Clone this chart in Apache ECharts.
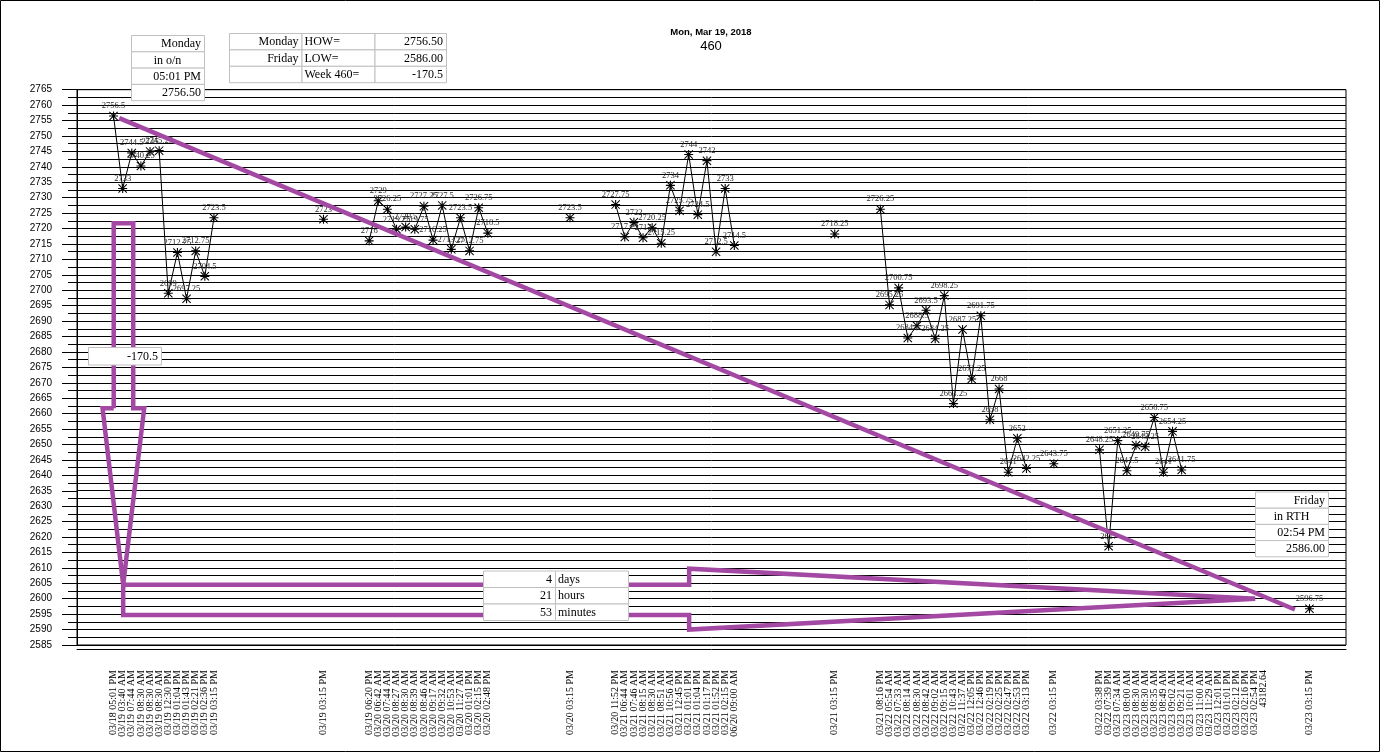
<!DOCTYPE html>
<html>
<head>
<meta charset="utf-8">
<title>Week 460</title>
<script src="https://cdn.jsdelivr.net/npm/echarts@6/dist/echarts.min.js"></script>
<style>
html, body { margin: 0; padding: 0; background: #fff; }
#chart { width: 1382px; height: 754px; }
</style>
</head>
<body>
<div id="chart"></div>
<script>
// ---- data ----------------------------------------------------------------
var monTimes = ['03/18 05:01 PM', '03/19 03:40 AM', '03/19 07:44 AM', '03/19 08:30 AM', '03/19 08:30 AM', '03/19 08:30 AM',
                '03/19 12:30 PM', '03/19 01:04 PM', '03/19 01:43 PM', '03/19 02:21 PM', '03/19 02:36 PM', '03/19 03:15 PM'];
var monPrices = [2756.5, 2733, 2744.5, 2740.25, 2745, 2745.25, 2699, 2712.25, 2697.25, 2712.75, 2704.5, 2723.5];

var tueTimes = ['03/19 06:20 PM', '03/20 06:42 AM', '03/20 07:44 AM', '03/20 08:27 AM', '03/20 08:30 AM', '03/20 08:39 AM', '03/20 08:46 AM',
                '03/20 09:17 AM', '03/20 09:32 AM', '03/20 10:53 AM', '03/20 11:27 AM', '03/20 01:01 PM', '03/20 02:15 PM', '03/20 02:48 PM'];
var tuePrices = [2716, 2729, 2726.25, 2719.75, 2720.5, 2719.75, 2727.25, 2716.25, 2727.5, 2713.25, 2723.5, 2712.75, 2726.75, 2718.5];

var wedTimes = ['03/20 11:52 PM', '03/21 06:44 AM', '03/21 07:46 AM', '03/21 08:15 AM', '03/21 08:30 AM', '03/21 08:51 AM', '03/21 10:56 AM',
                '03/21 12:45 PM', '03/21 01:01 PM', '03/21 01:04 PM', '03/21 01:17 PM', '03/21 01:52 PM', '03/21 02:15 PM', '06/20 09:00 AM'];
var wedPrices = [2727.75, 2717.25, 2722, 2717, 2720.25, 2715.25, 2734, 2725.75, 2744, 2724.5, 2742, 2712.5, 2733, 2714.5];

var thuTimes = ['03/21 08:16 PM', '03/22 05:54 AM', '03/22 07:33 AM', '03/22 08:14 AM', '03/22 08:30 AM', '03/22 08:42 AM', '03/22 09:02 AM',
                '03/22 09:15 AM', '03/22 10:43 AM', '03/22 11:37 AM', '03/22 12:05 PM', '03/22 12:46 PM', '03/22 02:19 PM', '03/22 02:25 PM',
                '03/22 02:47 PM', '03/22 02:53 PM', '03/22 03:13 PM'];
var thuPrices = [2726.25, 2695.25, 2700.75, 2684.5, 2688.5, 2693.5, 2684.25, 2698.25, 2663.25, 2687.25, 2671.25, 2691.75,
                 2658, 2668, 2641, 2652, 2642.25];

var friTimes = ['03/22 03:38 PM', '03/22 07:39 PM', '03/23 07:34 AM', '03/23 08:00 AM', '03/23 08:30 AM', '03/23 08:30 AM', '03/23 08:35 AM',
                '03/23 08:49 AM', '03/23 09:02 AM', '03/23 09:21 AM', '03/23 10:01 AM', '03/23 11:00 AM', '03/23 11:29 AM', '03/23 12:01 PM',
                '03/23 01:01 PM', '03/23 02:12 PM', '03/23 02:16 PM', '03/23 02:54 PM', '43182.64'];
var friPrices = [2648.25, 2617, 2651.25, 2641.5, 2649.75, 2649.25, 2658.75, 2641, 2654.25, 2641.75,
                 null, null, null, null, null, null, null, null, null];

// daily 03:15 PM settlement prints
var settleTimes = ['03/19 03:15 PM', '03/20 03:15 PM', '03/21 03:15 PM', '03/22 03:15 PM', '03/23 03:15 PM'];
var settlePrices = [2723, 2723.5, 2718.25, 2643.75, 2596.75];

// empty category slots before / after the blocks (as in the sheet)
var leadBlank = 4, trailBlank = 4;

// y axis
var yMin = 2585, yMax = 2765, yStep = 5;

// annotation shapes, in (slot, price) units
var howLowLine = [[4.62, 2755.8], [133.4, 2596.5]];
var dropArrow = [[4.02, 2661.75], [4.02, 2721.75], [6.16, 2721.75], [6.16, 2661.75], [7.36, 2661.75],
                 [5.06, 2604.5], [2.8, 2661.75], [4.02, 2661.75]];
var spanUpper = [[5.06, 2604.5], [67.05, 2604.5], [67.05, 2609.75], [129.05, 2600]];
var spanLower = [[5.06, 2604.5], [5.06, 2594.75], [67.05, 2594.75], [67.05, 2590], [129.05, 2600]];

// ---- build category axis ---------------------------------------------------
var blocks = [
    [leadBlank, monTimes, monPrices],
    [11, [settleTimes[0]], [settlePrices[0]]],
    [4, tueTimes, tuePrices],
    [8, [settleTimes[1]], [settlePrices[1]]],
    [4, wedTimes, wedPrices],
    [10, [settleTimes[2]], [settlePrices[2]]],
    [4, thuTimes, thuPrices],
    [2, [settleTimes[3]], [settlePrices[3]]],
    [4, friTimes, friPrices],
    [4, [settleTimes[4]], [settlePrices[4]]]
];
var cats = [], vals = [];
blocks.forEach(function (b) {
    for (var i = 0; i < b[0]; i++) { cats.push(''); vals.push(null); }
    for (var j = 0; j < b[1].length; j++) { cats.push(b[1][j]); vals.push(b[2][j]); }
});
for (var k = 0; k < trailBlank; k++) { cats.push(''); vals.push(null); }

// ---- little boxed tables ---------------------------------------------------
var SERIF = '"Liberation Serif", "Times New Roman", serif';
// rows: arrays of cells; a cell is a string (column align) or [text, align]
function table(x, y, colW, rowH, rows, aligns) {
    var kids = [];
    rows.forEach(function (row, r) {
        var cx = x;
        row.forEach(function (cell, c) {
            var txt = typeof cell === 'string' ? cell : cell[0];
            var a = typeof cell === 'string' ? aligns[c] : cell[1];
            kids.push({
                type: 'rect',
                shape: { x: cx + 0.5, y: y + r * rowH + 0.5, width: colW[c], height: rowH },
                style: { fill: '#fff', stroke: '#c0c0c0', lineWidth: 1 },
                z: 100
            });
            var tx = a === 'right' ? cx + colW[c] - 3 : (a === 'center' ? cx + colW[c] / 2 : cx + 3);
            kids.push({
                type: 'text',
                x: tx, y: y + r * rowH + rowH / 2 + 1,
                style: { text: txt, font: '12px ' + SERIF, fill: '#000',
                         align: a, verticalAlign: 'middle', textAlign: a, textVerticalAlign: 'middle' },
                z: 101
            });
            cx += colW[c];
        });
    });
    return kids;
}

var boxes = [].concat(
    table(131, 35, [73], 16.3, [['Monday'], [['in o/n', 'center']], ['05:01 PM'], ['2756.50']], ['right']),
    table(229, 33, [72.5, 73, 71.5], 16.4,
          [['Monday', 'HOW=', '2756.50'], ['Friday', 'LOW=', '2586.00'], ['', 'Week 460=', '-170.5']],
          ['right', 'left', 'right']),
    table(1255, 491.5, [73], 16.2, [['Friday'], [['in RTH', 'center']], ['02:54 PM'], ['2586.00']], ['right']),
    table(88, 347, [73], 17.5, [['-170.5']], ['right']),
    table(483, 570.5, [72, 73], 16.5, [['4', 'days'], ['21', 'hours'], ['53', 'minutes']], ['right', 'left'])
);

var purple = '#a349a4';
function shape(pts) {
    return {
        type: 'line', xAxisIndex: 1, data: pts, symbol: 'none', silent: true, z: 5,
        lineStyle: { color: purple, width: 4.5, join: 'miter', cap: 'butt' },
        animation: false
    };
}

var chart = echarts.init(document.getElementById('chart'));
var option = {
    animation: false,
    backgroundColor: '#fff',
    grid: { left: 77, right: 36, top: 89.7, bottom: 109, show: true, borderColor: '#000', borderWidth: 1 },
    xAxis: [{
        type: 'category',
        data: cats,
        boundaryGap: false,
        offset: 4,
        axisLine: { show: true, lineStyle: { color: '#000', width: 1 } },
        axisTick: { show: false },
        splitLine: { show: false },
        axisLabel: {
            interval: 0, rotate: 90, margin: 21, hideOverlap: false,
            fontFamily: SERIF, fontSize: 10, color: '#000'
        }
    }, {
        type: 'value', min: 0, max: cats.length - 1, show: false
    }],
    yAxis: {
        type: 'value',
        min: yMin, max: yMax, interval: yStep,
        axisLine: { show: true, lineStyle: { color: '#000' } },
        axisTick: { show: true, length: 15, lineStyle: { color: '#000' } },
        minorTick: { show: true, splitNumber: 2, length: 9, lineStyle: { color: '#000' } },
        splitLine: { show: true, lineStyle: { color: '#000', width: 1 } },
        minorSplitLine: { show: true, lineStyle: { color: '#000', width: 1 } },
        axisLabel: {
            margin: 25, fontFamily: '"Liberation Sans", Arial, sans-serif', fontSize: 10, color: '#000',
            formatter: function (v) { return String(v); }
        }
    },
    series: [{
        name: 'price',
        type: 'line',
        data: vals,
        connectNulls: false,
        showAllSymbol: true,
        symbol: 'path://M4.4 0L5.6 0L5.6 10L4.4 10Z M0 4.4L10 4.4L10 5.6L0 5.6Z M0 0.8L0.8 0L10 9.2L9.2 10Z M9.2 0L10 0.8L0.8 10L0 9.2Z',
        symbolSize: 9,
        itemStyle: { color: '#000', borderWidth: 0 },
        lineStyle: { color: '#000', width: 1 },
        label: {
            show: true, position: 'top', distance: 1,
            fontFamily: SERIF, fontSize: 8.5, color: '#2a2a2a'
        },
        z: 3
    },
    shape(howLowLine),
    shape(dropArrow),
    shape(spanUpper),
    shape(spanLower)
    ],
    graphic: [
        { type: 'rect', shape: { x: 0.5, y: 0.5, width: 1379, height: 751 }, style: { fill: 'none', stroke: '#000', lineWidth: 1 }, z: 100 },
        { type: 'text', x: 711, y: 32, z: 100,
          style: { text: 'Mon, Mar 19, 2018', font: 'bold 9.5px "Liberation Sans", Arial, sans-serif', fill: '#000',
                   align: 'center', verticalAlign: 'middle', textAlign: 'center', textVerticalAlign: 'middle' } },
        { type: 'text', x: 711, y: 46.5, z: 100,
          style: { text: '460', font: '13px "Liberation Sans", Arial, sans-serif', fill: '#000',
                   align: 'center', verticalAlign: 'middle', textAlign: 'center', textVerticalAlign: 'middle' } }
    ].concat(boxes)
};
chart.setOption(option);
</script>
</body>
</html>
